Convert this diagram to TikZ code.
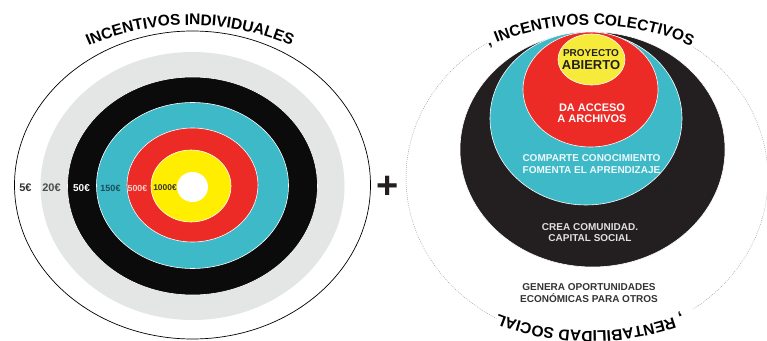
\documentclass[tikz,border=0pt]{standalone}
\usepackage{fontspec}
\setmainfont{Liberation Sans}
\usetikzlibrary{decorations.text}
\definecolor{ringgray}{HTML}{E4E5E5}
\definecolor{ringblack}{HTML}{0B0B0C}
\definecolor{ringcyan}{HTML}{3DB9C8}
\definecolor{ringred}{HTML}{EC2A26}
\definecolor{ringyellow}{HTML}{FFEE00}
\definecolor{colblack}{HTML}{231F20}
\definecolor{colyellow}{HTML}{F6EB3A}
\definecolor{dotgray}{HTML}{9A9A9A}
\definecolor{tealtext}{HTML}{1C4E57}
\definecolor{pinktext}{HTML}{F9D0CC}
\definecolor{darktext}{HTML}{333333}
\newcommand\titlefnt{\fontsize{15.5}{15.5}\selectfont\bfseries}
\begin{document}
\begin{tikzpicture}[x=1pt,y=1pt,
  ringline/.style={draw=white, line width=0.6},
  lbl/.style={inner sep=0, font=\bfseries},
  dotline/.style={draw=dotgray, line width=0.5, dash pattern=on 0.8pt off 1.2pt},
  curvetext/.style={decorate, decoration={text along path, text align=center, text={|\titlefnt|#1}}}]
\useasboundingbox (0,0) rectangle (767,340);
\clip (0,0) rectangle (767,340);
% ---------- left target ----------
\draw[line width=0.7, fill=white] (192.5,155) ellipse [x radius=178, y radius=154];
\fill[ringgray] (192.5,154) ellipse [x radius=152, y radius=134];
\filldraw[fill=ringblack, ringline] (192.5,154) ellipse [x radius=125, y radius=109];
\filldraw[fill=ringcyan, ringline] (192.5,154.5) ellipse [x radius=96, y radius=83];
\filldraw[fill=ringred, ringline] (192.5,155) ellipse [x radius=65.5, y radius=57];
\filldraw[fill=ringyellow, ringline] (191,154) ellipse [x radius=40, y radius=36];
\fill[white] (192.5,153) ellipse [x radius=15.5, y radius=15];
\path[curvetext={INCENTIVOS INDIVIDUALES}] (190,155) ++(150:205 and 160) arc[start angle=150, end angle=30, x radius=205, y radius=160];
\node[lbl, font=\fontsize{11}{11}\selectfont\bfseries, text=darktext] (e5) at (25.5,152) {5€};
\node[lbl, font=\fontsize{11}{11}\selectfont\bfseries, text=black!70] (e20) at (51.5,152) {20€};
\node[lbl, font=\fontsize{10}{10}\selectfont\bfseries, text=white] (e50) at (81.5,152) {50€};
\node[lbl, font=\fontsize{9}{9}\selectfont\bfseries, text=tealtext] (e150) at (110.5,152) {150€};
\node[lbl, font=\fontsize{8.8}{8.8}\selectfont\bfseries, text=pinktext] (e500) at (137.5,152) {500€};
\node[lbl, font=\fontsize{8.4}{8.4}\selectfont\bfseries, text=darktext] (e1000) at (165,152) {1000€};
% ---------- plus ----------
\node[lbl, font=\fontsize{38}{38}\selectfont\bfseries, text=colblack] (plus) at (388,153) {+};
% ---------- right diagram ----------
\draw[dotline] (587,162) ++(123.5:181 and 162) arc[start angle=123.5, end angle=240, x radius=181, y radius=162];
\draw[dotline] (587,162) ++(54:181 and 162) arc[start angle=54, end angle=-54, x radius=181, y radius=162];
\filldraw[fill=colblack, ringline] (592.5,190.5) ellipse [x radius=132.5, y radius=117.5];
\filldraw[fill=ringcyan, ringline] (586,221.5) ellipse [x radius=96, y radius=86.5];
\filldraw[fill=ringred, ringline] (590.5,250.5) ellipse [x radius=67.5, y radius=57.5];
\filldraw[fill=colyellow, ringline] (591.5,280.5) ellipse [x radius=33.5, y radius=25.5];
\path[curvetext={, INCENTIVOS COLECTIVOS}] (590,162) ++(150:200 and 153) arc[start angle=150, end angle=30, x radius=200, y radius=153];
\path[curvetext={, RENTABILIDAD SOCIAL}] (590,162) ++(-30:200 and 153) arc[start angle=-30, end angle=-150, x radius=200, y radius=153];
\node[lbl, font=\fontsize{10}{10}\selectfont\bfseries, text=colblack] (proy) at (591,287) {PROYECTO};
\node[lbl, font=\fontsize{13}{13}\selectfont\bfseries, text=colblack] (abierto) at (591,275) {ABIERTO};
\node[lbl, align=center, font=\fontsize{11}{11.5}\selectfont\bfseries, text=white] (acceso) at (592,227) {DA ACCESO\\A ARCHIVOS};
\node[lbl, align=center, font=\fontsize{10}{12}\selectfont\bfseries, text=white!92!ringcyan] (comparte) at (591.5,176) {COMPARTE CONOCIMIENTO\\FOMENTA EL APRENDIZAJE};
\node[lbl, align=center, font=\fontsize{10}{11}\selectfont\bfseries, text=white!88!black] (crea) at (590,107) {CREA COMUNIDAD.\\CAPITAL SOCIAL};
\node[lbl, align=center, font=\fontsize{10}{12}\selectfont\bfseries, text=darktext] (genera) at (589,47) {GENERA OPORTUNIDADES\\ECONÓMICAS PARA OTROS};
\end{tikzpicture}
\end{document}
